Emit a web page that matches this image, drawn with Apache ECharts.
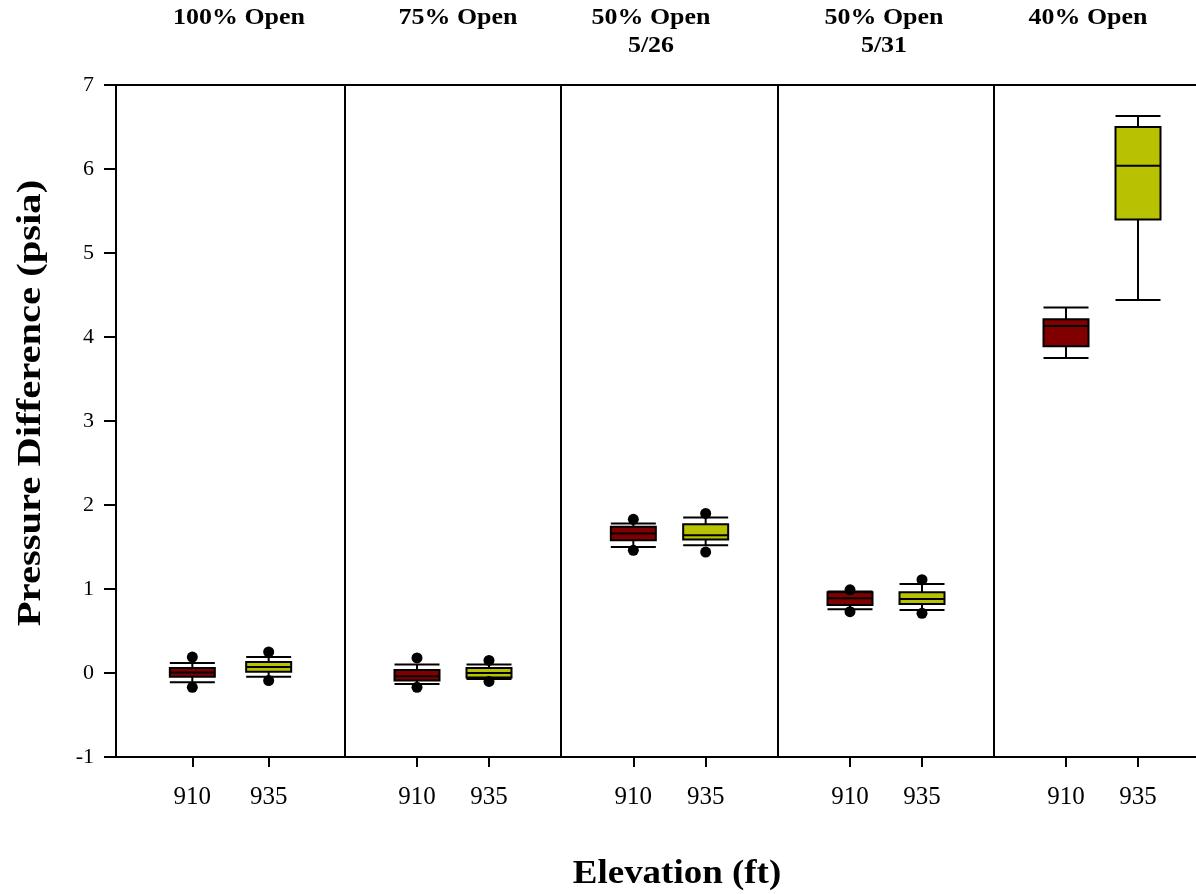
<!DOCTYPE html>
<html><head><meta charset="utf-8">
<script src="https://cdn.jsdelivr.net/npm/echarts@6/dist/echarts.min.js"></script>
<style>html,body{margin:0;padding:0;background:#fff}#c{width:1196px;height:894px}</style>
</head><body><div id="c"></div>
<script>
// ---- data ----
const panelTitles = ['100% Open', '75% Open', '50% Open\n5/26', '50% Open\n5/31', '40% Open'];
const elevations = ['910', '935'];
const yTicks = [-1, 0, 1, 2, 3, 4, 5, 6, 7];
// [lower whisker, Q1, median, Q3, upper whisker]
const box910 = [
  [-0.11, -0.045, 0.005, 0.06, 0.12],
  [-0.13, -0.09, -0.04, 0.035, 0.10],
  [1.50, 1.58, 1.66, 1.74, 1.78],
  [0.76, 0.81, 0.89, 0.96, 0.97],
  [3.75, 3.89, 4.13, 4.21, 4.35]
];
const box935 = [
  [-0.045, 0.015, 0.07, 0.13, 0.19],
  [-0.07, -0.055, 0.0, 0.06, 0.10],
  [1.52, 1.59, 1.64, 1.77, 1.85],
  [0.75, 0.82, 0.88, 0.96, 1.06],
  [4.44, 5.40, 6.04, 6.50, 6.63]
];
const outliers910 = [[0.19, -0.17], [0.18, -0.17], [1.83, 1.46], [0.99, 0.73], []];
const outliers935 = [[0.25, -0.09], [0.15, -0.10], [1.90, 1.44], [1.11, 0.71], []];

const RED = '#800000', YEL = '#b9c200';
const SERIF = '"Liberation Serif", "Times New Roman", serif';
const axisCats = [''].concat(elevations, ['']);
const panels = [[116, 229], [345, 216], [561, 217], [778, 216], [994, 216]];
const titleX = [239, 458, 651, 884, 1088];

const grid = [], xAxis = [], yAxis = [], series = [], graphic = [];
panels.forEach((p, i) => {
  grid.push({left: p[0], width: p[1], top: 85, height: 672, show: true,
    outerBoundsMode: 'none', containLabel: false,
    borderColor: '#000', borderWidth: 2, backgroundColor: 'transparent'});
  xAxis.push({type: 'category', gridIndex: i, data: axisCats, boundaryGap: false,
    axisLine: {show: true, onZero: false, lineStyle: {color: '#000', width: 2}},
    axisTick: {show: true, interval: (idx) => idx === 1 || idx === 2, length: 10, lineStyle: {color: '#000', width: 2}},
    axisLabel: {show: true, interval: (idx) => idx === 1 || idx === 2, margin: 28,
      fontFamily: SERIF, fontSize: 25, color: '#000'},
    splitLine: {show: false}});
  yAxis.push({type: 'value', gridIndex: i, min: yTicks[0], max: yTicks[yTicks.length - 1], interval: 1,
    show: i === 0,
    axisLine: {show: true, lineStyle: {color: '#000', width: 2}},
    axisTick: {show: true, length: 12, lineStyle: {color: '#000', width: 2}},
    axisLabel: {margin: 22, fontFamily: SERIF, fontSize: 22, color: '#000'},
    splitLine: {show: false}});
  series.push({type: 'boxplot', xAxisIndex: i, yAxisIndex: i, boxWidth: [45, 45],
    encode: {x: 0, y: [1, 2, 3, 4, 5]},
    itemStyle: {borderColor: '#000', borderWidth: 2},
    emphasis: {disabled: true},
    data: [
      {value: [1].concat(box910[i]), itemStyle: {color: RED, borderColor: '#000', borderWidth: 2}},
      {value: [2].concat(box935[i]), itemStyle: {color: YEL, borderColor: '#000', borderWidth: 2}}
    ]});
  const pts = outliers910[i].map(v => [1, v]).concat(outliers935[i].map(v => [2, v]));
  series.push({type: 'scatter', xAxisIndex: i, yAxisIndex: i, symbol: 'circle', symbolSize: 11,
    itemStyle: {color: '#000', opacity: 1}, z: 5, emphasis: {disabled: true}, data: pts});
  const lines = panelTitles[i].split('\n');
  lines.forEach((t, k) => {
    graphic.push({type: 'text', x: titleX[i], y: 6 + k * 28, scaleX: 1.08,
      style: {text: t, font: 'bold 24px ' + SERIF, fill: '#000', textAlign: 'center'}});
  });
});
graphic.push({type: 'text', x: 31, y: 403, rotation: Math.PI / 2, scaleX: 1.23,
  style: {text: 'Pressure Difference (psia)', font: 'bold 33px ' + SERIF, fill: '#000',
    textAlign: 'center', textVerticalAlign: 'middle'}});
graphic.push({type: 'text', x: 677, y: 874, scaleX: 1.12,
  style: {text: 'Elevation (ft)', font: 'bold 33px ' + SERIF, fill: '#000',
    textAlign: 'center', textVerticalAlign: 'middle'}});

const chart = echarts.init(document.getElementById('c'), null, {renderer: 'canvas'});
chart.setOption({animation: false, backgroundColor: '#fff', grid, xAxis, yAxis, series, graphic});
</script>
</body></html>
